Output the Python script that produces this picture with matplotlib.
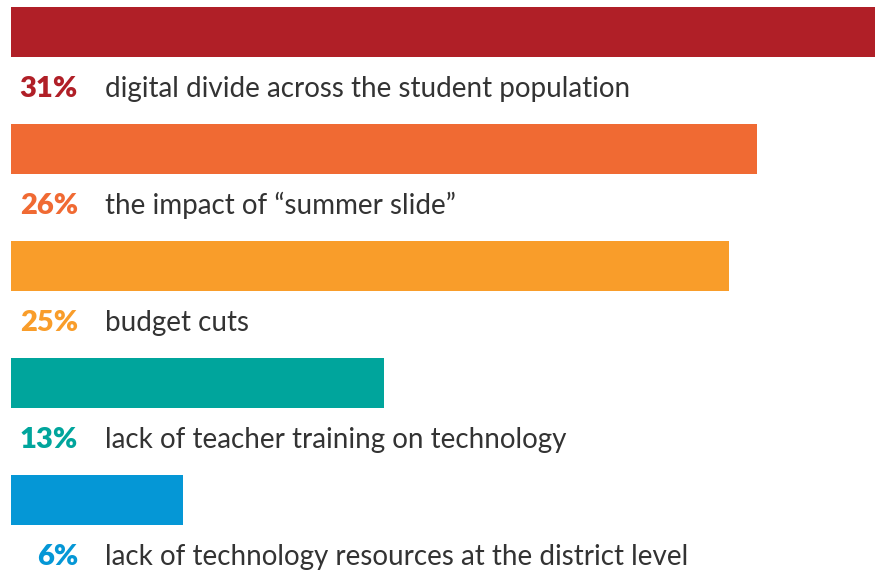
import matplotlib
matplotlib.use("Agg")
import matplotlib.pyplot as plt

labels = ["digital divide across the student population",
          "the impact of \u201csummer slide\u201d",
          "budget cuts",
          "lack of teacher training on technology",
          "lack of technology resources at the district level"]
values = [31, 26, 25, 13, 6]
colors = ["#B01F27", "#F06A33", "#F99D2A", "#00A59C", "#0597D6"]

W, H = 875, 571
fig = plt.figure(figsize=(W / 100, H / 100), dpi=100)
left_px = 11
px_per_unit = 28.7
ax = fig.add_axes([left_px / W, 0, (W - left_px) / W, 1])
row_px = 117
first_center = 32
ax.set_xlim(0, (W - left_px) / px_per_unit)
ax.set_ylim((H - first_center) / row_px, -first_center / row_px)
ax.axis("off")

ys = list(range(len(values)))
ax.barh(ys, values, height=50 / row_px, color=colors, align="center")

text_off = (97 - first_center) / row_px
pct_x = (78 - left_px) / px_per_unit
lab_x = (105 - left_px) / px_per_unit
for y, v, lab, c in zip(ys, values, labels, colors):
    ax.text(pct_x, y + text_off, f"{v}%", ha="right", va="baseline",
            fontsize=21, fontweight="heavy", color=c, family="Lato")
    ax.text(lab_x, y + text_off, lab, ha="left", va="baseline",
            fontsize=20, color="#333333", family="Lato")

fig.savefig("out.png", dpi=100)
